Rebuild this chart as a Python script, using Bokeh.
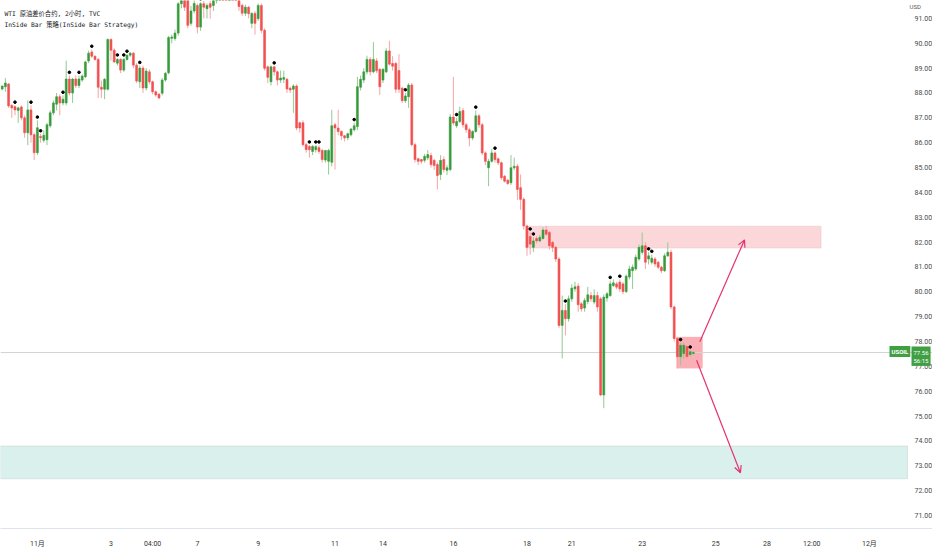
from bokeh.plotting import figure
from bokeh.models import (FixedTicker, PrintfTickFormatter, BoxAnnotation, Span, Label,
                          Arrow, OpenHead, ColumnDataSource, Range1d)
from bokeh.embed import file_html
from bokeh.resources import INLINE

# ---------------- data (2h USOIL candles) ----------------
opens = [
    88.16, 88.25, 88.36, 87.50, 87.45, 87.30, 87.44, 87.00, 86.40, 87.32,
    86.32, 85.60, 86.25, 86.10, 86.12, 86.68, 87.20, 87.55, 87.85, 87.60,
    87.60, 88.56, 88.00, 88.56, 88.30, 88.52, 88.65, 89.29, 89.65, 89.48,
    89.35, 88.23, 88.15, 88.15, 90.15, 89.72, 89.20, 89.35, 88.92, 89.35,
    89.52, 89.60, 89.12, 88.45, 89.00, 88.20, 88.85, 88.45, 88.05, 87.95,
    87.99, 88.52, 88.81, 90.20, 90.19, 90.41, 91.59, 92.00, 91.80, 90.80,
    91.30, 91.52, 90.65, 91.59, 91.39, 91.59, 91.52, 91.75, 92.20, 92.45,
    92.25, 92.00, 92.30, 92.00, 91.85, 91.52, 91.21, 91.45, 90.80, 91.20,
    90.99, 91.52, 90.52, 89.05, 88.45, 89.05, 88.85, 88.52, 88.55, 88.55,
    88.19, 88.15, 88.28, 86.80, 86.80, 85.92, 85.85, 85.65, 85.72, 85.80,
    85.69, 85.30, 85.25, 85.21, 86.72, 86.59, 86.45, 86.28, 86.20, 86.32,
    86.52, 86.65, 88.23, 88.52, 88.85, 89.35, 88.85, 89.29, 88.95, 88.52,
    88.85, 89.69, 89.19, 89.19, 88.90, 88.19, 87.69, 87.85, 88.32, 85.92,
    85.35, 85.32, 85.29, 85.39, 85.48, 85.29, 85.12, 84.72, 85.32, 84.89,
    84.92, 87.03, 86.68, 86.85, 87.29, 86.72, 86.52, 86.19, 86.45, 87.08,
    86.72, 85.59, 84.99, 85.25, 85.59, 85.35, 85.19, 84.65, 84.49, 84.39,
    84.99, 85.05, 84.19, 83.72, 82.65, 82.23, 81.79, 82.15, 82.05, 82.15,
    82.49, 82.39, 81.99, 81.79, 81.32, 78.65, 79.25, 78.92, 79.72, 80.12,
    80.23, 79.52, 79.35, 79.61, 79.85, 79.59, 79.85, 79.72, 75.85, 79.75,
    79.85, 80.25, 80.32, 80.39, 80.32, 80.01, 80.60, 80.85, 80.92, 81.32,
    81.59, 81.85, 81.32, 81.19, 81.32, 81.19, 80.99, 80.85, 81.45, 81.59,
    79.39, 78.12, 77.39, 77.52, 77.80, 77.48, 77.52,
]
highs = [
    88.30, 88.60, 88.40, 87.55, 87.50, 87.45, 87.50, 87.10, 87.70, 87.50,
    86.40, 86.90, 86.35, 86.50, 86.80, 87.30, 87.70, 88.00, 87.95, 87.90,
    89.30, 88.70, 88.60, 88.70, 88.70, 88.75, 89.30, 89.70, 89.75, 89.50,
    89.40, 88.50, 88.60, 90.20, 90.20, 89.80, 89.40, 89.40, 89.40, 89.55,
    89.65, 89.65, 89.20, 89.10, 89.10, 89.00, 88.95, 88.50, 88.10, 88.00,
    88.60, 88.85, 90.30, 90.35, 90.55, 91.65, 92.10, 92.20, 91.90, 91.50,
    91.80, 91.60, 91.65, 91.70, 91.60, 91.70, 91.90, 92.30, 92.60, 92.70,
    92.50, 92.40, 92.50, 92.30, 92.00, 91.60, 91.55, 91.50, 91.25, 91.30,
    91.60, 91.60, 90.60, 89.10, 89.10, 89.08, 88.90, 88.90, 88.90, 88.60,
    88.25, 88.35, 88.35, 86.85, 86.90, 86.00, 85.90, 85.90, 85.90, 85.90,
    85.75, 85.70, 85.75, 87.32, 86.80, 87.32, 86.50, 86.30, 86.40, 86.60,
    86.80, 88.65, 88.70, 89.00, 89.50, 89.45, 90.05, 89.40, 89.00, 89.00,
    89.80, 90.10, 89.48, 89.25, 89.56, 88.25, 88.00, 88.40, 88.40, 86.00,
    85.40, 85.35, 85.55, 85.70, 85.60, 85.35, 85.20, 85.50, 85.45, 85.10,
    87.15, 88.65, 87.00, 87.45, 87.40, 86.80, 86.60, 86.50, 87.30, 87.15,
    86.80, 85.65, 85.35, 85.75, 85.65, 85.40, 85.25, 84.70, 84.55, 85.50,
    85.40, 85.15, 84.72, 83.80, 82.70, 82.40, 82.20, 82.25, 82.30, 82.60,
    82.65, 82.45, 82.05, 81.85, 81.40, 79.85, 79.50, 79.85, 80.30, 80.40,
    80.35, 79.60, 79.75, 80.20, 80.00, 80.10, 80.00, 79.80, 79.90, 80.00,
    80.45, 80.50, 80.40, 80.50, 80.40, 80.70, 81.05, 81.10, 81.50, 81.90,
    82.39, 82.00, 81.60, 81.50, 81.40, 81.25, 81.05, 81.55, 81.99, 81.70,
    79.45, 78.15, 77.95, 77.95, 77.85, 77.65, 77.62,
]
lows = [
    88.10, 88.05, 87.40, 87.00, 87.10, 86.80, 86.90, 86.20, 85.90, 86.00,
    85.30, 85.50, 86.00, 86.00, 85.90, 86.60, 87.10, 87.30, 87.10, 87.50,
    87.50, 87.90, 87.60, 88.20, 88.20, 88.45, 88.60, 89.20, 89.40, 89.30,
    87.80, 87.80, 87.75, 88.10, 89.30, 89.20, 89.10, 88.80, 88.85, 89.30,
    89.45, 89.00, 88.40, 88.20, 88.00, 88.10, 88.35, 87.95, 87.85, 87.75,
    87.90, 88.45, 88.75, 90.00, 90.10, 90.30, 91.40, 91.30, 90.60, 90.70,
    91.20, 90.40, 90.50, 91.00, 91.00, 90.99, 91.30, 91.60, 92.00, 92.10,
    91.90, 91.70, 91.80, 91.70, 91.30, 91.10, 91.10, 91.00, 90.60, 90.35,
    90.90, 90.40, 88.90, 88.40, 88.30, 88.70, 88.30, 88.40, 88.40, 88.00,
    88.00, 87.20, 86.50, 86.40, 85.85, 85.60, 85.40, 85.50, 85.60, 85.55,
    85.20, 85.20, 84.72, 85.05, 84.92, 86.30, 86.10, 86.05, 86.10, 86.25,
    86.45, 86.50, 88.10, 88.40, 88.75, 88.70, 88.80, 88.80, 87.92, 88.40,
    88.80, 89.10, 88.90, 88.00, 88.00, 87.60, 87.60, 87.40, 85.85, 85.20,
    85.10, 85.15, 85.20, 85.30, 85.00, 84.90, 84.12, 84.50, 84.80, 84.70,
    84.85, 86.70, 86.60, 86.80, 86.60, 86.40, 85.85, 86.10, 86.40, 86.60,
    85.50, 85.10, 84.25, 85.20, 85.20, 85.10, 84.50, 84.40, 84.30, 84.30,
    84.90, 83.70, 83.30, 82.50, 81.45, 81.50, 81.60, 81.95, 82.00, 82.10,
    82.25, 81.70, 81.60, 81.20, 78.55, 77.32, 78.25, 78.80, 79.60, 80.00,
    79.20, 79.20, 79.20, 79.50, 79.60, 79.50, 79.20, 75.80, 75.32, 79.60,
    79.80, 80.20, 80.10, 80.00, 79.90, 79.95, 80.50, 80.12, 80.85, 81.25,
    81.50, 80.92, 81.10, 81.10, 81.00, 80.90, 80.75, 80.80, 81.40, 79.30,
    78.00, 76.92, 77.05, 77.30, 77.30, 77.40, 77.48,
]
closes = [
    88.28, 88.40, 87.48, 87.40, 87.32, 87.40, 87.00, 86.40, 87.32, 86.32,
    85.60, 86.60, 86.20, 86.30, 86.72, 87.20, 87.60, 87.85, 87.60, 87.75,
    88.56, 88.00, 88.56, 88.30, 88.56, 88.68, 89.25, 89.60, 89.48, 89.35,
    88.23, 88.15, 88.55, 90.15, 89.72, 89.25, 89.35, 88.92, 89.35, 89.52,
    89.60, 89.12, 88.48, 89.00, 88.20, 88.88, 88.45, 88.05, 87.92, 87.80,
    88.52, 88.79, 90.23, 90.25, 90.41, 91.59, 91.90, 91.45, 90.72, 91.30,
    91.60, 90.65, 91.59, 91.45, 91.52, 91.45, 91.75, 92.20, 92.45, 92.25,
    92.00, 92.30, 92.00, 91.90, 91.48, 91.21, 91.45, 91.19, 91.20, 90.80,
    91.52, 90.52, 88.99, 88.63, 89.05, 88.85, 88.52, 88.60, 88.62, 88.16,
    88.12, 88.28, 86.59, 86.59, 85.92, 85.72, 85.72, 85.85, 85.84, 85.65,
    85.32, 85.69, 85.69, 86.68, 86.59, 86.45, 86.28, 86.19, 86.36, 86.55,
    86.68, 88.25, 88.55, 88.85, 89.35, 88.85, 89.35, 88.89, 88.25, 88.95,
    89.69, 89.16, 89.08, 88.15, 88.15, 87.69, 87.88, 88.32, 85.92, 85.32,
    85.25, 85.25, 85.45, 85.52, 85.12, 85.08, 84.68, 85.29, 84.92, 84.99,
    87.03, 86.79, 86.85, 87.25, 86.72, 86.52, 86.19, 86.45, 87.08, 86.72,
    85.59, 85.25, 85.25, 85.59, 85.32, 85.19, 84.59, 84.45, 84.36, 84.99,
    85.05, 84.12, 83.72, 82.65, 81.79, 81.92, 82.05, 82.05, 82.19, 82.49,
    82.32, 81.85, 81.79, 81.32, 78.65, 79.25, 78.92, 79.72, 80.15, 80.20,
    79.48, 79.32, 79.65, 79.88, 79.72, 79.85, 79.39, 75.85, 79.79, 79.92,
    80.32, 80.36, 80.19, 80.12, 80.01, 80.63, 80.92, 80.99, 81.39, 81.79,
    81.85, 81.19, 81.45, 81.35, 81.12, 80.99, 80.85, 81.45, 81.59, 79.39,
    78.12, 77.39, 77.85, 77.85, 77.40, 77.59, 77.56,
]
# bars flagged by the "InSide Bar" strategy (0-based bar numbers)
signal_bars = [4, 9, 11, 12, 19, 21, 24, 28, 36, 38, 39, 43, 62, 85, 96, 98, 99,
               110, 126, 142, 148, 154, 165, 166, 176, 190, 193, 202, 203, 212, 215]

x_tick_bars = [11, 34, 47, 61, 80, 104, 119, 141, 164, 178, 200, 223, 239, 253, 271]
x_tick_labels = ["11月", "3", "04:00", "7", "9", "11", "14", "16", "18", "21",
                 "23", "25", "28", "12:00", "12月"]
y_ticks = list(range(71, 92))
symbol = "USOIL"
currency = "USD"
countdown = "56:15"

# drawings (bar number / price)
supply_zone = dict(left=163.6, right=255.9, bottom=81.76, top=82.64)
inside_zone = dict(left=210.7, right=218.9, bottom=76.92, top=78.19)
demand_zone = dict(right=282.9, bottom=72.48, top=73.80)
arrow_up = dict(x_start=218.0, y_start=77.99, x_end=231.97, y_end=82.09)
arrow_down = dict(x_start=217.0, y_start=77.25, x_end=230.7, y_end=72.72)

# ---------------- styling ----------------
GREEN = "#389a3c"
RED = "#f0504f"
GREEN_WICK = "#92c992"
RED_WICK = "#f6a5a5"
PINK = "#e3336f"
LABEL_GREEN = "#3f9f42"

# plotting area (bars) ends at x = PANE_END; the price scale sits to its right
X0, PANE_END, X1 = -0.53, 274.47, 290.72
Y0, Y1 = 70.48, 91.72
FRAME_W, FRAME_H = 932, 531
SCALE_X = 880  # screen x where the price scale begins

n = len(opens)
xs = list(range(n))
up = [c >= o for o, c in zip(opens, closes)]
src = ColumnDataSource(dict(
    x=xs,
    top=[max(o, c) for o, c in zip(opens, closes)],
    bottom=[min(o, c) for o, c in zip(opens, closes)],
    high=highs, low=lows,
    color=[GREEN if u else RED for u in up],
    wick=[GREEN_WICK if u else RED_WICK for u in up],
))

p = figure(width=932, height=550, x_range=Range1d(X0, X1), y_range=Range1d(Y0, Y1),
           y_axis_location="right", output_backend="svg", toolbar_location=None,
           min_border_left=0, min_border_right=0, min_border_top=0, min_border_bottom=19)
p.outline_line_color = None
p.grid.visible = False
p.background_fill_color = "white"
p.border_fill_color = "white"

# zones
p.add_layout(BoxAnnotation(**demand_zone, fill_color="#089981", fill_alpha=0.15,
                           line_color="#aab6b4", line_width=1, level="underlay"))
p.add_layout(BoxAnnotation(**supply_zone, fill_color="#f23645", fill_alpha=0.2,
                           line_color="#d9aab0", line_width=1, level="underlay"))
p.add_layout(BoxAnnotation(**inside_zone, fill_color="#f23645", fill_alpha=0.4,
                           line_color=None, level="underlay"))
p.add_layout(Span(location=closes[-1], dimension="width", line_color="#d4d4d4",
                  line_width=1, level="underlay"))

# candles
p.segment(x0="x", y0="low", x1="x", y1="high", line_color="wick", line_width=1, source=src)
p.vbar(x="x", width=0.6, top="top", bottom="bottom", fill_color="color",
       line_color="color", line_width=0.6, source=src)

# strategy dots
p.scatter(x=signal_bars, y=[highs[i] + 0.13 for i in signal_bars], size=2.6,
          fill_color="black", line_color="black")

# arrows
for a in (arrow_up, arrow_down):
    p.add_layout(Arrow(end=OpenHead(size=7, line_color=PINK, line_width=1.2),
                       line_color=PINK, line_width=1.2, **a))

# price scale (drawn at the end of the bar pane)
p.yaxis.fixed_location = PANE_END
p.yaxis.ticker = FixedTicker(ticks=y_ticks)
p.yaxis.formatter = PrintfTickFormatter(format="%.2f")
p.yaxis.axis_line_color = None
p.yaxis.major_tick_line_color = None
p.yaxis.minor_tick_line_color = None
p.yaxis.major_label_standoff = 28
p.yaxis.major_label_text_font = "Roboto"
p.yaxis.major_label_text_font_size = "7px"
p.yaxis.major_label_text_color = "#4a4a4a"

p.xaxis.ticker = FixedTicker(ticks=x_tick_bars)
p.xaxis.major_label_overrides = dict(zip(x_tick_bars, x_tick_labels))
p.xaxis.axis_line_color = "#e0e3eb"
p.xaxis.major_tick_line_color = None
p.xaxis.minor_tick_line_color = None
p.xaxis.major_label_standoff = 5
p.xaxis.major_label_text_font = "Roboto, 'Noto Sans CJK SC'"
p.xaxis.major_label_text_font_size = "7px"
p.xaxis.major_label_text_color = "#333333"


def frame_y(price):
    """screen y (from frame bottom) of a price"""
    return (price - Y0) / (Y1 - Y0) * FRAME_H


# legend texts
mono = "DejaVu Sans Mono, 'Noto Sans CJK SC'"
p.add_layout(Label(x=4, y=FRAME_H - 15.5, x_units="screen", y_units="screen",
                   text="WTI 原油差价合约, 2小时, TVC", text_font=mono,
                   text_font_size="6.3px", text_color="#131722", text_baseline="middle"))
p.add_layout(Label(x=4, y=FRAME_H - 27, x_units="screen", y_units="screen",
                   text="InSide Bar 策略(InSide Bar Strategy)", text_font=mono,
                   text_font_size="6.3px", text_color="#131722", text_baseline="middle"))
p.add_layout(Label(x=SCALE_X + 29, y=FRAME_H - 9, x_units="screen", y_units="screen",
                   text=currency, text_font="Roboto", text_font_size="6px",
                   text_color="#555555", text_baseline="middle"))
# last price tags
p.add_layout(Label(x=SCALE_X + 9, y=frame_y(closes[-1]), x_units="screen", y_units="screen",
                   text=symbol, text_font="Roboto", text_font_size="6px",
                   text_font_style="bold", text_color="white",
                   background_fill_color=LABEL_GREEN, text_baseline="middle", padding=2))
p.add_layout(Label(x=SCALE_X + 31, y=frame_y(closes[-1]) + 5, x_units="screen", y_units="screen",
                   text=f"{closes[-1]:.2f}\n{countdown}",
                   text_font="Roboto", text_font_size="6px",
                   text_color="white", background_fill_color=LABEL_GREEN,
                   text_baseline="top", padding=2))

open("out.html", "w").write(file_html(p, INLINE))
